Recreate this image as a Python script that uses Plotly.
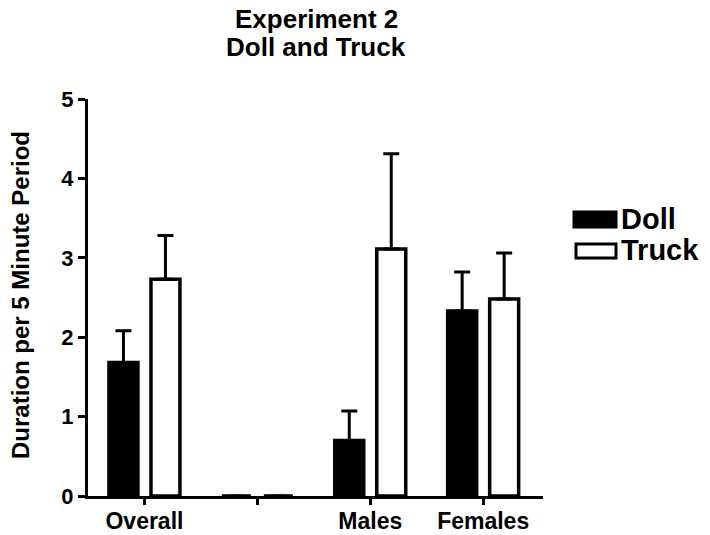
import plotly.graph_objects as go

# Group labels (the blank slot is an empty spacer group between Overall and Males)
groups = ["Overall", " ", "Males", "Females"]

# Mean duration per 5 minute period, with the upper error (SEM) for each bar
doll_mean = [1.68, 0, 0.70, 2.33]
doll_err = [0.40, 0, 0.37, 0.49]
truck_mean = [2.73, 0, 3.11, 2.48]
truck_err = [0.55, 0, 1.20, 0.58]

series_names = ["Doll", "Truck"]
y_ticks = [0, 1, 2, 3, 4, 5]
title_lines = ["Experiment 2", "Doll and Truck"]

FONT = "Liberation Sans, Arial, Helvetica, sans-serif"
LINE_W = 3.5

fig = go.Figure()
fig.add_trace(go.Bar(
    name=series_names[0], x=groups, y=doll_mean,
    marker=dict(color="black", line=dict(color="black", width=LINE_W)),
    error_y=dict(type="data", symmetric=False, array=doll_err,
                 arrayminus=[0] * len(doll_err), color="black",
                 thickness=3, width=8),
))
fig.add_trace(go.Bar(
    name=series_names[1], x=groups, y=truck_mean,
    marker=dict(color="white", line=dict(color="black", width=LINE_W)),
    error_y=dict(type="data", symmetric=False, array=truck_err,
                 arrayminus=[0] * len(truck_err), color="black",
                 thickness=3, width=8),
))

W, H = 710, 535
L, R, T, B = 88, 167, 99, 39
pw, ph = W - L - R, H - T - B


def px_x(x):
    return (x - L) / pw


def px_y(y):
    return (H - B - y) / ph


# Hand-drawn legend with wide swatches
legend_items = [
    dict(name=series_names[0], fill="black", y0=212, y1=227, x0=574),
    dict(name=series_names[1], fill="white", y0=244, y1=258, x0=576),
]
shapes = []
annotations = []
for it in legend_items:
    shapes.append(dict(type="rect", xref="paper", yref="paper",
                       x0=px_x(it["x0"]), x1=px_x(616),
                       y0=px_y(it["y1"]), y1=px_y(it["y0"]),
                       fillcolor=it["fill"],
                       line=dict(color="black", width=3)))
    annotations.append(dict(xref="paper", yref="paper",
                            x=px_x(619), y=px_y((it["y0"] + it["y1"]) / 2 - 1),
                            xanchor="left", yanchor="middle",
                            text=it["name"], showarrow=False,
                            font=dict(family=FONT, size=29, color="black",
                                      weight="bold")))

# Two-line chart title
for text, yc in zip(title_lines, [19, 47]):
    annotations.append(dict(xref="paper", yref="paper",
                            x=px_x(316), y=px_y(yc),
                            xanchor="center", yanchor="middle",
                            text=text, showarrow=False,
                            font=dict(family=FONT, size=26, color="black",
                                      weight="bold")))

# Y axis title
annotations.append(dict(xref="paper", yref="paper",
                        x=px_x(20), y=px_y(295), xanchor="center",
                        yanchor="middle", textangle=-90, showarrow=False,
                        text="Duration per 5 Minute Period",
                        font=dict(family=FONT, size=24, color="black",
                                  weight="bold")))

fig.update_layout(
    width=W, height=H,
    margin=dict(l=L, r=R, t=T, b=B, pad=0, autoexpand=False),
    paper_bgcolor="white", plot_bgcolor="white",
    barmode="group", bargap=0.256, bargroupgap=0.31,
    showlegend=False,
    shapes=shapes, annotations=annotations,
    xaxis=dict(range=[-0.5, 3.53], showgrid=False, zeroline=False,
               automargin=False,
               showline=True, linecolor="black", linewidth=3,
               ticks="outside", ticklen=6, tickwidth=3, tickcolor="black",
               ticklabelstandoff=-4,
               tickfont=dict(family=FONT, size=23, color="black",
                             weight="bold")),
    yaxis=dict(range=[0, 5], tickvals=y_ticks, showgrid=False,
               automargin=False,
               zeroline=False, showline=True, linecolor="black", linewidth=3,
               ticks="outside", ticklen=7, tickwidth=3, tickcolor="black",
               tickfont=dict(family=FONT, size=22, color="black",
                             weight="bold")),
)

fig.write_html("out.html")
